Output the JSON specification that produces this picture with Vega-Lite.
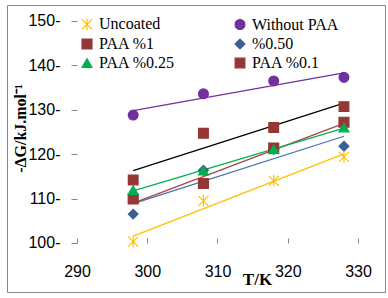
{
  "$schema": "https://vega.github.io/schema/vega-lite/v6.json",
  "width": 378,
  "height": 287,
  "autosize": {"type": "none"},
  "padding": {"left": 7, "top": 5, "right": 3, "bottom": 6},
  "background": "white",
  "config": {
    "view": {"stroke": "#868686", "strokeWidth": 1},
    "legend": {
      "labelFont": "Liberation Serif",
      "labelFontSize": 16,
      "labelColor": "black",
      "labelOffset": 4,
      "labelLimit": 200,
      "symbolStrokeWidth": 1.2,
      "symbolOpacity": 1
    }
  },
  "data": {
    "values": [
      {"series": "%0.50", "T": 298, "dG": 106.5},
      {"series": "%0.50", "T": 308, "dG": 116.4},
      {"series": "%0.50", "T": 318, "dG": 121.1},
      {"series": "%0.50", "T": 328, "dG": 121.8},
      {"series": "Uncoated", "T": 298, "dG": 100.3},
      {"series": "Uncoated", "T": 308, "dG": 109.5},
      {"series": "Uncoated", "T": 318, "dG": 114.0},
      {"series": "Uncoated", "T": 328, "dG": 119.4},
      {"series": "Without PAA", "T": 298, "dG": 128.8},
      {"series": "Without PAA", "T": 308, "dG": 133.6},
      {"series": "Without PAA", "T": 318, "dG": 136.5},
      {"series": "Without PAA", "T": 328, "dG": 137.3},
      {"series": "PAA %1", "T": 298, "dG": 109.9},
      {"series": "PAA %1", "T": 308, "dG": 113.4},
      {"series": "PAA %1", "T": 318, "dG": 121.4},
      {"series": "PAA %1", "T": 328, "dG": 127.2},
      {"series": "PAA %0.25", "T": 298, "dG": 111.9},
      {"series": "PAA %0.25", "T": 308, "dG": 116.3},
      {"series": "PAA %0.25", "T": 318, "dG": 121.1},
      {"series": "PAA %0.25", "T": 328, "dG": 126.0},
      {"series": "PAA %0.1", "T": 298, "dG": 114.2},
      {"series": "PAA %0.1", "T": 308, "dG": 124.7},
      {"series": "PAA %0.1", "T": 318, "dG": 126.0},
      {"series": "PAA %0.1", "T": 328, "dG": 130.7}
    ]
  },
  "encoding": {
    "x": {
      "field": "T",
      "type": "quantitative",
      "scale": {"domain": [280.04, 333.84], "nice": false, "zero": false},
      "axis": {
        "values": [290, 300, 310, 320, 330],
        "offset": -49,
        "domain": false,
        "grid": false,
        "tickSize": -5,
        "tickColor": "#868686",
        "labelFont": "Liberation Sans",
        "labelFontSize": 16,
        "labelColor": "black",
        "labelPadding": 25,
        "labelFlush": false,
        "labelOverlap": false,
        "title": "T/K",
        "titleFont": "Liberation Serif",
        "titleFontSize": 17,
        "titleFontWeight": "bold",
        "titleColor": "black",
        "titleX": 250,
        "titleY": 41,
        "titleBaseline": "alphabetic",
        "titleAlign": "center"
      }
    },
    "y": {
      "field": "dG",
      "type": "quantitative",
      "scale": {"domain": [88.96, 153.6], "nice": false, "zero": false},
      "axis": {
        "values": [100, 110, 120, 130, 140, 150],
        "offset": -70,
        "domain": false,
        "grid": false,
        "tickSize": 6,
        "tickColor": "#868686",
        "labelExpr": "datum.label + '-'",
        "labelFont": "Liberation Sans",
        "labelFontSize": 16,
        "labelColor": "black",
        "labelPadding": 11,
        "labelOverlap": false,
        "title": "-ΔG/kJ.mol⁻¹",
        "titleFont": "Liberation Serif",
        "titleFontSize": 16,
        "titleFontWeight": "bold",
        "titleColor": "black",
        "titleAngle": -90,
        "titleX": -57,
        "titleY": 123,
        "titleBaseline": "middle",
        "titleAlign": "center"
      }
    }
  },
  "layer": [
    {
      "data": {"values": [{}]},
      "mark": {"type": "rule", "color": "#868686", "strokeWidth": 1},
      "encoding": {
        "x": {"datum": 290, "type": "quantitative"},
        "y": {"datum": 100, "type": "quantitative"},
        "y2": {"datum": 150}
      }
    },
    {
      "data": {"values": [{}]},
      "mark": {"type": "rule", "color": "#868686", "strokeWidth": 1},
      "encoding": {
        "x": {"datum": 290, "type": "quantitative"},
        "x2": {"datum": 330},
        "y": {"datum": 100, "type": "quantitative"}
      }
    },
    {
      "transform": [
        {"regression": "dG", "on": "T", "groupby": ["series"], "extent": [298, 328]}
      ],
      "mark": {"type": "line", "strokeWidth": 1.3},
      "encoding": {
        "stroke": {
          "field": "series",
          "type": "nominal",
          "scale": {
            "domain": ["Uncoated", "PAA %1", "PAA %0.25", "Without PAA", "%0.50", "PAA %0.1"],
            "range": ["#FFC000", "#A94644", "#00B050", "#7030A0", "#4472B0", "#000000"]
          },
          "legend": null
        }
      }
    },
    {
      "mark": {"type": "point", "filled": true, "opacity": 1, "strokeWidth": 1.2},
      "encoding": {
        "color": {
          "field": "series",
          "type": "nominal",
          "scale": {
            "domain": ["Uncoated", "PAA %1", "PAA %0.25", "Without PAA", "%0.50", "PAA %0.1"],
            "range": ["#FFC000", "#953735", "#00B050", "#7030A0", "#3B5F8F", "#953735"]
          },
          "legend": {
            "orient": "none",
            "legendX": 72,
            "legendY": 11,
            "columns": 2,
            "columnPadding": 57,
            "rowPadding": 3,
            "title": null,
            "labelFont": "Liberation Serif",
            "labelFontSize": 16,
            "encode": {
              "symbols": {
                "update": {
                  "stroke": {"scale": "color", "field": "value"}
                }
              }
            }
          }
        },
        "shape": {
          "field": "series",
          "type": "nominal",
          "scale": {
            "domain": ["Uncoated", "PAA %1", "PAA %0.25", "Without PAA", "%0.50", "PAA %0.1"],
            "range": ["M-1,-1L1,1M-1,1L1,-1M0,-1.15L0,1.15", "square", "triangle-up", "circle", "diamond", "square"]
          }
        },
        "size": {
          "field": "series",
          "type": "nominal",
          "scale": {
            "domain": ["Uncoated", "PAA %1", "PAA %0.25", "Without PAA", "%0.50", "PAA %0.1"],
            "range": [100, 94, 121, 81, 70, 94]
          }
        },
        "stroke": {
          "field": "series",
          "type": "nominal",
          "scale": {
            "domain": ["Uncoated", "PAA %1", "PAA %0.25", "Without PAA", "%0.50", "PAA %0.1"],
            "range": ["#FFC000", "#953735", "#00B050", "#7030A0", "#3B5F8F", "#953735"]
          },
          "legend": null
        }
      }
    }
  ],
  "resolve": {"scale": {"stroke": "independent"}}
}
